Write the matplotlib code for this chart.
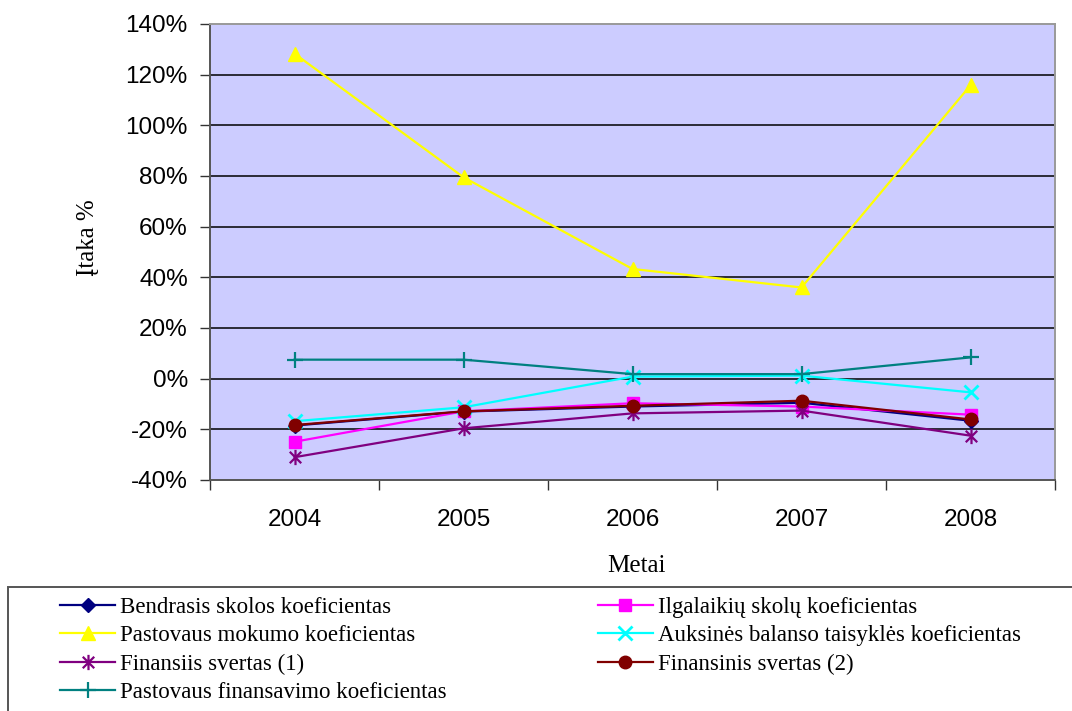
import matplotlib
matplotlib.use("Agg")
import matplotlib.pyplot as plt
from matplotlib.path import Path
from matplotlib.patches import Rectangle
from matplotlib.ticker import FixedLocator, FuncFormatter

# Category labels and series values (in percent)
years = ["2004", "2005", "2006", "2007", "2008"]
bendrasis = [-18.5, -13.0, -11.0, -9.5, -16.6]
ilgalaikiu = [-24.9, -12.9, -9.7, -11.0, -14.2]
mokumo = [128.3, 79.5, 43.3, 36.0, 115.8]
auksines = [-16.8, -11.3, 0.8, 1.2, -5.4]
svertas1 = [-31.0, -19.6, -13.7, -12.6, -22.5]
svertas2 = [-18.3, -12.9, -10.7, -8.7, -16.1]
finansavimo = [7.5, 7.5, 1.8, 1.8, 8.4]

labels = [
    "Bendrasis skolos koeficientas",
    "Ilgalaikių skolų koeficientas",
    "Pastovaus mokumo koeficientas",
    "Auksinės balanso taisyklės koeficientas",
    "Finansiis svertas (1)",
    "Finansinis svertas (2)",
    "Pastovaus finansavimo koeficientas",
]

# Asterisk marker: vertical bar plus an X
star = Path(
    [(0, -1), (0, 1), (-0.75, -0.75), (0.75, 0.75), (-0.75, 0.75), (0.75, -0.75)],
    [Path.MOVETO, Path.LINETO, Path.MOVETO, Path.LINETO, Path.MOVETO, Path.LINETO],
)

styles = [
    dict(color="#000080", marker="D", ms=7),
    dict(color="#FF00FF", marker="s", ms=8),
    dict(color="#FFFF00", marker="^", ms=10),
    dict(color="#00FFFF", marker="x", ms=10, mew=2),
    dict(color="#800080", marker=star, ms=11, mew=1.6),
    dict(color="#800000", marker="o", ms=9),
    dict(color="#008080", marker="+", ms=12, mew=1.6),
]
series = [bendrasis, ilgalaikiu, mokumo, auksines, svertas1, svertas2, finansavimo]

fig = plt.figure(figsize=(10.72, 7.11), dpi=100)
W, H = 1072, 711
ax = fig.add_axes([210 / W, 1 - 480 / H, 845 / W, 456 / H])
ax.set_facecolor("#CCCCFF")

x = list(range(len(years)))
lines = []
for vals, lab, st in zip(series, labels, styles):
    ln, = ax.plot(x, vals, lw=1.6, label=lab, **st)
    lines.append(ln)

ax.set_xlim(-0.5, len(years) - 0.5)
ax.set_ylim(-40, 140)

# y axis
ax.yaxis.set_major_locator(FixedLocator(range(-40, 141, 20)))
ax.yaxis.set_major_formatter(FuncFormatter(lambda v, p: f"{v:.0f}%"))
ax.tick_params(axis="y", direction="out", length=7, width=1, pad=9,
               labelsize=17.5, color="#333333")
for v in range(-20, 121, 20):
    ax.axhline(v, color="black", lw=1.1, zorder=0.5)

# x axis: ticks at category boundaries, labels at centers
ax.xaxis.set_major_locator(FixedLocator([i - 0.5 for i in range(len(years) + 1)]))
ax.xaxis.set_major_formatter(FuncFormatter(lambda v, p: ""))
ax.xaxis.set_minor_locator(FixedLocator(x))
ax.set_xticklabels(years, minor=True)
ax.tick_params(axis="x", which="major", direction="out", length=7, width=1,
               color="#333333")
ax.tick_params(axis="x", which="minor", length=0, pad=21, labelsize=17.5)

for t in ax.get_xticklabels(minor=True) + ax.get_yticklabels():
    t.set_family("Liberation Sans")

ax.spines["left"].set_color("#555555")
ax.spines["bottom"].set_color("#555555")
ax.spines["top"].set_color("#999999")
ax.spines["right"].set_color("#999999")
for s in ax.spines.values():
    s.set_linewidth(1.4)

ax.set_ylabel("Įtaka %", family="Liberation Serif", fontsize=18)
ax.yaxis.set_label_coords((88 - 210) / 845, (480 - 238) / 456)
ax.yaxis.label.set_va("center")
ax.set_xlabel("Metai", family="Liberation Serif", fontsize=18)
ax.xaxis.set_label_coords((636 - 210) / 845, (480 - 566) / 456)
ax.xaxis.label.set_va("center")

# Legend box spanning the bottom of the figure
fig.patches.append(Rectangle((8 / W, -0.05), 1.2, 1 - 587 / H + 0.05,
                             transform=fig.transFigure, fill=False,
                             edgecolor="#555555", lw=1.4))

order = [0, 2, 4, 6, 1, 3, 5]
leg = fig.legend([lines[i] for i in order], [labels[i] for i in order],
                 loc="upper left", bbox_to_anchor=(60 / W, 1 - 597 / H),
                 ncol=2, frameon=False, prop={"family": "Liberation Serif", "size": 16.5},
                 handlelength=2.4, handletextpad=0.22, columnspacing=6.6,
                 labelspacing=0.32, borderpad=0, borderaxespad=0)

fig.savefig("out.png", dpi=100)
